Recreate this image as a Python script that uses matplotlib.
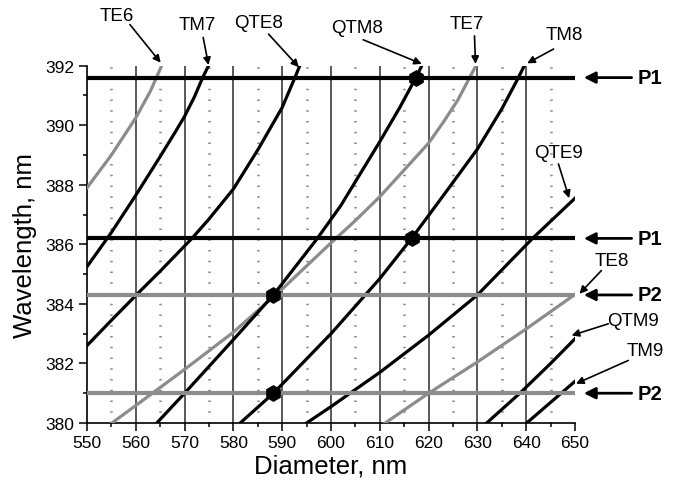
import matplotlib
matplotlib.use("Agg")
import matplotlib.pyplot as plt
from matplotlib.ticker import MultipleLocator

plt.rcParams['font.family'] = ['Liberation Sans', 'DejaVu Sans']

# mode curves: diameter (nm) vs wavelength (nm)
te6_x = [550, 555, 560, 563, 565.3]
te6_y = [387.9, 389.0, 390.25, 391.15, 392.0]

tm7_x = [550, 555, 560, 565, 568, 570, 572, 573.7, 574.9]
tm7_y = [385.25, 386.4, 387.65, 388.95, 389.75, 390.3, 390.95, 391.6, 392.0]

qte8_x = [550, 555, 560.1, 565, 571.5, 575, 580, 585.1, 590, 592.6, 593.6]
qte8_y = [382.6, 383.45, 384.3, 385.1, 386.2, 386.85, 387.86, 389.2, 390.6, 391.6, 392.0]

te7_x = [555.1, 563, 570, 580, 590, 600, 605, 610, 615, 620, 623, 626, 628.4, 629.7]
te7_y = [380.0, 380.95, 381.8, 383.05, 384.5, 386.05, 386.8, 387.6, 388.5, 389.4,
         390.1, 390.85, 391.6, 392.0]

qtm8_x = [564.3, 570, 580, 588.2, 597.2, 602, 610, 614.1, 617.4, 618.6]
qtm8_y = [380.0, 381.0, 382.8, 384.3, 386.2, 387.3, 389.45, 390.6, 391.6, 392.0]

tm8_x = [581.4, 588.2, 600, 610, 616.5, 620, 624, 630, 635, 638.4, 639.6]
tm8_y = [380.0, 381.0, 383.0, 384.85, 386.2, 386.97, 387.86, 389.2, 390.55, 391.6, 392.0]

qte9_x = [595, 600, 610, 620, 630, 641.3, 650]
qte9_y = [380.0, 380.55, 381.7, 382.95, 384.3, 386.2, 387.55]

te8_x = [611.1, 620, 630, 640, 650]
te8_y = [380.0, 381.0, 382.05, 383.16, 384.32]

qtm9_x = [631.9, 638.7, 645, 650]
qtm9_y = [380.0, 381.0, 382.0, 382.83]

tm9_x = [640.1, 650]
tm9_y = [380.0, 381.4]

# pump lines
p1_levels = [391.6, 386.2]
p2_levels = [384.3, 381.0]

# matched points
dot_x = [617.4, 616.5, 588.2, 588.2]
dot_y = [391.6, 386.2, 384.3, 381.0]

black_curves = [(tm7_x, tm7_y), (qte8_x, qte8_y), (qtm8_x, qtm8_y), (tm8_x, tm8_y),
                (qte9_x, qte9_y), (qtm9_x, qtm9_y), (tm9_x, tm9_y)]
gray_curves = [(te6_x, te6_y), (te7_x, te7_y), (te8_x, te8_y)]

# label text position, arrow tail, arrow head
mode_labels = [
    ("TE6", (556.1, 393.68), (558.8, 393.38), (565.1, 392.1)),
    ("TM7", (572.5, 393.37), (573.8, 392.95), (574.9, 392.02)),
    ("QTE8", (585.1, 393.46), (587.2, 393.06), (593.4, 391.95)),
    ("QTM8", (605.3, 393.29), (606.6, 392.87), (618.6, 392.06)),
    ("TE7", (627.8, 393.43), (629.4, 393.0), (629.6, 392.06)),
    ("TM8", (647.9, 393.06), (645.6, 392.56), (640.2, 392.08)),
    ("QTE9", (646.6, 389.1), (646.6, 388.7), (648.8, 387.55)),
    ("TE8", (657.5, 385.46), (655.4, 385.12), (650.9, 384.34)),
    ("QTM9", (661.9, 383.44), (656.8, 383.33), (649.3, 382.94)),
    ("TM9", (664.3, 382.44), (660.9, 382.1), (650.2, 381.32)),
]

fig = plt.figure(figsize=(6.75, 4.85), dpi=100)
ax = fig.add_axes([0.1289, 0.1258, 0.7230, 0.7367])

ax.set_xlim(550, 650)
ax.set_ylim(380, 392)

# vertical grid
for gx in range(560, 650, 10):
    ax.plot([gx, gx], [380, 392], color='#3c3c3c', lw=1.2, zorder=1)
for gx in range(555, 650, 10):
    ax.plot([gx, gx], [380, 392], color='#858585', lw=1.8,
            linestyle=(0, (0.6, 3.7)), zorder=1)

for cx, cy in gray_curves:
    ax.plot(cx, cy, color='#8c8c8c', lw=2.3, zorder=3, solid_joinstyle='round')
for cx, cy in black_curves:
    ax.plot(cx, cy, color='black', lw=2.3, zorder=3, solid_joinstyle='round')

for lev in p1_levels:
    ax.plot([550, 650], [lev, lev], color='black', lw=3.0, zorder=4)
for lev in p2_levels:
    ax.plot([550, 650], [lev, lev], color='#8c8c8c', lw=3.0, zorder=4)

ax.plot(dot_x, dot_y, 'h', color='black', markersize=11, zorder=5)

for name, txt, tail, head in mode_labels:
    ax.text(txt[0], txt[1], name, fontsize=13.5, ha='center', va='center',
            clip_on=False)
    ax.annotate('', xy=head, xytext=tail, annotation_clip=False,
                arrowprops=dict(arrowstyle='-|>', color='black', lw=1.2,
                                mutation_scale=11, shrinkA=0, shrinkB=0))

for name, levels in (("P1", p1_levels), ("P2", p2_levels)):
    for lev in levels:
        ax.annotate('', xy=(651.8, lev), xytext=(661.6, lev), annotation_clip=False,
                    arrowprops=dict(arrowstyle='-|>', color='black', lw=2.0,
                                    mutation_scale=17, shrinkA=0, shrinkB=0))
        ax.text(665.3, lev, name, fontsize=14.5, fontweight='bold',
                ha='center', va='center', clip_on=False)

ax.spines['top'].set_visible(False)
ax.spines['right'].set_visible(False)
ax.spines['left'].set_linewidth(1.2)
ax.spines['bottom'].set_linewidth(1.2)

ax.xaxis.set_major_locator(MultipleLocator(10))
ax.xaxis.set_minor_locator(MultipleLocator(5))
ax.yaxis.set_major_locator(MultipleLocator(2))
ax.yaxis.set_minor_locator(MultipleLocator(1))
ax.tick_params(which='major', direction='out', length=5.5, width=1.1,
               labelsize=12.5, pad=3.5)
ax.tick_params(which='minor', direction='out', length=3, width=1.1)

ax.set_xlabel("Diameter, nm", fontsize=18.5, labelpad=2)
ax.set_ylabel("Wavelength, nm", fontsize=18.5, labelpad=6)

fig.savefig("out.png", dpi=100)
